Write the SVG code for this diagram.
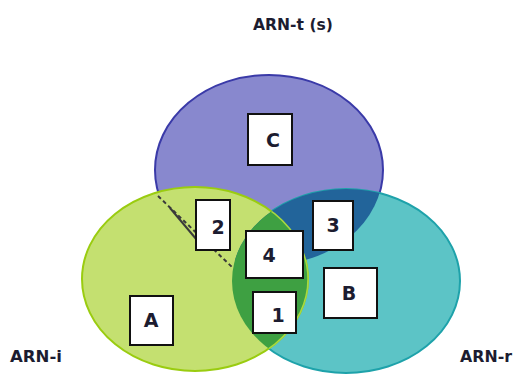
<svg xmlns="http://www.w3.org/2000/svg" width="516" height="380" viewBox="0 0 516 380">
<style>
.box{fill:#ffffff;stroke:#111111;stroke-width:2}
.lbl{font-family:"DejaVu Sans",Verdana,sans-serif;font-weight:bold;font-size:19px;fill:#1c1c30;text-anchor:middle}
.set{font-family:"DejaVu Sans",Verdana,sans-serif;font-weight:bold;font-size:15px;fill:#1c1c30}
</style>
<defs>
<clipPath id="clipA"><ellipse cx="195" cy="279" rx="113" ry="92"/></clipPath>
<clipPath id="clipB"><ellipse cx="346" cy="281" rx="114" ry="92"/></clipPath>
</defs>
<rect width="516" height="380" fill="#ffffff"/>
<g id="setC">
<ellipse cx="269" cy="170" rx="114" ry="95" fill="#8888ce" stroke="#3a3aa8" stroke-width="2"/>
</g>
<g id="setB">
<ellipse cx="346" cy="281" rx="114" ry="92" fill="#5cc4c6" stroke="#1ea2aa" stroke-width="2"/>
</g>
<g id="setA">
<ellipse cx="195" cy="279" rx="113" ry="92" fill="#c4e070" stroke="#9acc10" stroke-width="2"/>
</g>
<g id="overlaps">
<ellipse cx="269" cy="170" rx="114" ry="95" fill="#22649a" clip-path="url(#clipB)"/>
<ellipse cx="346" cy="281" rx="114" ry="92" fill="#3ea042" clip-path="url(#clipA)"/>
<ellipse cx="195" cy="279" rx="113" ry="92" fill="none" stroke="#a8d840" stroke-width="1.5" clip-path="url(#clipB)"/>
</g>
<g id="connectors">
<path d="M158,196 L232,267" fill="none" stroke="#3a3a3a" stroke-width="2" stroke-dasharray="4,3"/>
<path d="M170,208 L202,246" fill="none" stroke="#3a3a3a" stroke-width="2"/>
</g>
<g id="nodeC"><rect class="box" x="248" y="114" width="44" height="51"/><text class="lbl" x="273" y="147">C</text></g>
<g id="node2"><rect class="box" x="196" y="200" width="34" height="50"/><text class="lbl" x="218" y="234">2</text></g>
<g id="node3"><rect class="box" x="313" y="201" width="40" height="49"/><text class="lbl" x="333" y="232">3</text></g>
<g id="node4"><rect class="box" x="246" y="231" width="57" height="47"/><text class="lbl" x="269" y="262">4</text></g>
<g id="nodeB"><rect class="box" x="324" y="268" width="53" height="50"/><text class="lbl" x="349" y="300">B</text></g>
<g id="node1"><rect class="box" x="253" y="292" width="43" height="41"/><text class="lbl" x="278" y="322">1</text></g>
<g id="nodeA"><rect class="box" x="130" y="296" width="43" height="49"/><text class="lbl" x="151" y="327">A</text></g>
<g id="labels">
<text class="set" x="253" y="30" textLength="80" lengthAdjust="spacingAndGlyphs">ARN-t (s)</text>
<text class="set" x="10" y="362" textLength="52" lengthAdjust="spacingAndGlyphs">ARN-i</text>
<text class="set" x="460" y="362" textLength="52" lengthAdjust="spacingAndGlyphs">ARN-r</text>
</g>
</svg>
